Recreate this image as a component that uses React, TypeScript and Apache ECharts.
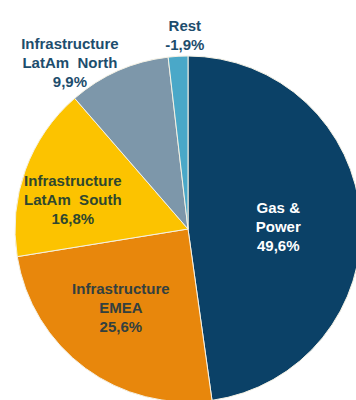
import React, { useEffect, useRef } from "react";
import * as echarts from "echarts";

const categories = [
  "Gas &\nPower",
  "Infrastructure\nEMEA",
  "Infrastructure\nLatAm  South",
  "Infrastructure\nLatAm  North",
  "Rest",
];
const shares = [49.6, 25.6, 16.8, 9.9, -1.9];
const sliceColors = ["#0B4167", "#E8870C", "#FCC300", "#7D97AA", "#4AA8C8"];
const labelColors = ["#FFFFFF", "#33403F", "#2F472F", "#1D4D6D", "#1D4D6D"];
// label nudges relative to the library's inside label anchor
const labelShift = [
  [1, 4],
  [-14, 6],
  [-31, 1],
  [-82, -85],
  [2, -105],
];

export default function App() {
  const ref = useRef<HTMLDivElement>(null);
  useEffect(() => {
    if (!ref.current) return;
    const chart = echarts.init(ref.current, undefined, { renderer: "svg" });
    const data = categories.map((name, i) => ({
      name,
      value: Math.abs(shares[i]),
      itemStyle: { color: sliceColors[i] },
      label: { color: labelColors[i] },
    }));
    chart.setOption({
      animation: false,
      backgroundColor: "#FFFFFF",
      series: [
        {
          type: "pie",
          center: [188, 229],
          radius: 173,
          startAngle: 90,
          clockwise: true,
          avoidLabelOverlap: false,
          data,
          itemStyle: { borderColor: "#F4F1E4", borderWidth: 1 },
          label: {
            show: true,
            position: "inside",
            fontFamily: "Liberation Sans, Arial, sans-serif",
            fontWeight: "bold",
            fontSize: 15,
            lineHeight: 19,
            align: "center",
            formatter: (p: any) =>
              p.name + "\n" + shares[p.dataIndex].toFixed(1).replace(".", ",") + "%",
          },
          labelLine: { show: false },
          labelLayout: (p: any) => ({
            dx: labelShift[p.dataIndex][0],
            dy: labelShift[p.dataIndex][1],
          }),
          emphasis: { disabled: true },
        },
      ],
    });
    return () => chart.dispose();
  }, []);
  return (
    <div
      ref={ref}
      style={{ position: "fixed", left: 0, top: 0, width: 356, height: 400 }}
    />
  );
}
